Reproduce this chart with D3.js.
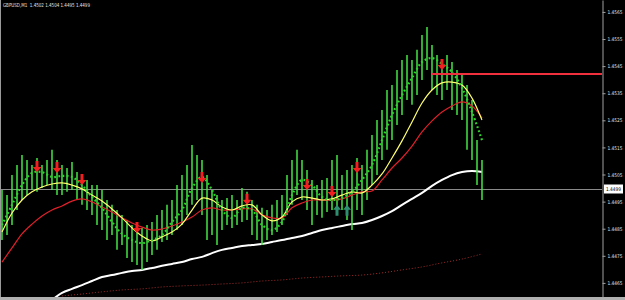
<!DOCTYPE html>
<html>
<head>
<meta charset="utf-8">
<script src="https://cdn.jsdelivr.net/npm/d3@7"></script>
<style>
body { margin: 0; background: #000; }
svg { display: block; }
</style>
</head>
<body>
<svg id="chart" width="625" height="300"></svg>
<script>
// header / axis
const symbolTitle = "GBPUSD,M1  1.4502 1.4504 1.4495 1.4499";
const priceTicks = [1.4565, 1.4555, 1.4545, 1.4535, 1.4525, 1.4515, 1.4505, 1.4495, 1.4485, 1.4475, 1.4465];
const lastPrice = 1.4499;
const levelPrice = 1.45421;   // red horizontal level
const levelStart = 86;        // bar where the level starts

// M1 bars (high / low), one per bar index 0..96
const barHigh = [1.44993, 1.44974, 1.45048, 1.45085, 1.45122, 1.45104, 1.45085, 1.45111, 1.45085, 1.45104,
  1.45141, 1.45104, 1.45085, 1.45074, 1.45096, 1.45059, 1.45048, 1.45030, 1.45011, 1.45011,
  1.44993, 1.44956, 1.44938, 1.44919, 1.44901, 1.44882, 1.44864, 1.44845, 1.44853, 1.44864,
  1.44875, 1.44901, 1.44919, 1.44938, 1.44956, 1.45011, 1.45048, 1.45085, 1.45159, 1.45122,
  1.45104, 1.45048, 1.44993, 1.44974, 1.44956, 1.44963, 1.44974, 1.44956, 1.45000, 1.44986,
  1.44956, 1.44938, 1.44927, 1.44919, 1.44938, 1.44956, 1.44974, 1.45048, 1.45104, 1.45141,
  1.45104, 1.45067, 1.45030, 1.45011, 1.45030, 1.45037, 1.45104, 1.45122, 1.45048, 1.45067,
  1.45085, 1.45111, 1.45085, 1.45141, 1.45196, 1.45251, 1.45288, 1.45362, 1.45380, 1.45436,
  1.45473, 1.45491, 1.45473, 1.45510, 1.45565, 1.45594, 1.45528, 1.45491, 1.45473, 1.45491,
  1.45465, 1.45436, 1.45417, 1.45380, 1.45325, 1.45177, 1.45104];
const barLow = [1.44808, 1.44827, 1.44864, 1.44919, 1.44956, 1.44974, 1.44993, 1.44986, 1.45000, 1.45011,
  1.44993, 1.44974, 1.44974, 1.44986, 1.44993, 1.44956, 1.44938, 1.44919, 1.44901, 1.44864,
  1.44845, 1.44808, 1.44827, 1.44772, 1.44790, 1.44742, 1.44727, 1.44716, 1.44698, 1.44727,
  1.44753, 1.44772, 1.44801, 1.44808, 1.44827, 1.44845, 1.44864, 1.44901, 1.44938, 1.44956,
  1.44901, 1.44808, 1.44827, 1.44790, 1.44845, 1.44864, 1.44853, 1.44864, 1.44875, 1.44882,
  1.44827, 1.44808, 1.44790, 1.44808, 1.44827, 1.44838, 1.44864, 1.44901, 1.44938, 1.44974,
  1.44956, 1.44919, 1.44864, 1.44901, 1.44890, 1.44912, 1.44919, 1.44901, 1.44919, 1.44882,
  1.44845, 1.44919, 1.44901, 1.44956, 1.45011, 1.45048, 1.45104, 1.45141, 1.45177, 1.45233,
  1.45270, 1.45325, 1.45307, 1.45343, 1.45399, 1.45436, 1.45362, 1.45343, 1.45325, 1.45362,
  1.45288, 1.45270, 1.45251, 1.45141, 1.45104, 1.45011, 1.44956];

// indicator lines, read every second bar (0, 2, ... 96)
const maIdx = d3.range(0, 97, 2);
const fastDots = [1.44864, 1.44938, 1.45011, 1.45056, 1.45059, 1.45041, 1.45045, 1.45041, 1.45011, 1.44967,
  1.44927, 1.44875, 1.44831, 1.44808, 1.44797, 1.44808, 1.44827, 1.44875, 1.44919, 1.45000,
  1.45041, 1.44993, 1.44919, 1.44890, 1.44927, 1.44919, 1.44864, 1.44845, 1.44875, 1.44974,
  1.45030, 1.45011, 1.44967, 1.44956, 1.44963, 1.44986, 1.45030, 1.45085, 1.45177, 1.45270,
  1.45343, 1.45406, 1.45465, 1.45480, 1.45458, 1.45428, 1.45369, 1.45281, 1.45177];
const yellowMA = [1.44838, 1.44908, 1.44956, 1.44986, 1.45004, 1.45015, 1.45019, 1.45011, 1.44997, 1.44974,
  1.44952, 1.44923, 1.44890, 1.44853, 1.44823, 1.44805, 1.44820, 1.44838, 1.44867, 1.44919,
  1.44963, 1.44956, 1.44930, 1.44919, 1.44934, 1.44938, 1.44901, 1.44879, 1.44893, 1.44949,
  1.44967, 1.44963, 1.44956, 1.44960, 1.44974, 1.44986, 1.44982, 1.45011, 1.45052, 1.45111,
  1.45174, 1.45244, 1.45314, 1.45362, 1.45388, 1.45391, 1.45380, 1.45332, 1.45251];
const redMA = [1.44727, 1.44779, 1.44831, 1.44867, 1.44897, 1.44919, 1.44934, 1.44952, 1.44960, 1.44949,
  1.44930, 1.44912, 1.44890, 1.44871, 1.44856, 1.44845, 1.44849, 1.44860, 1.44875, 1.44893,
  1.44919, 1.44927, 1.44919, 1.44919, 1.44923, 1.44923, 1.44901, 1.44890, 1.44890, 1.44927,
  1.44945, 1.44956, 1.44956, 1.44956, 1.44960, 1.44974, 1.44986, 1.44989, 1.45030, 1.45074,
  1.45111, 1.45155, 1.45207, 1.45248, 1.45281, 1.45303, 1.45318, 1.45303, 1.45259];

// white MA starts at bar 10
const whiteIdx = d3.range(10, 97, 2);
const whiteMA = [1.44587, 1.44613, 1.44628, 1.44642, 1.44657, 1.44672, 1.44679, 1.44687, 1.44694, 1.44698,
  1.44705, 1.44713, 1.44720, 1.44727, 1.44738, 1.44746, 1.44760, 1.44772, 1.44779, 1.44786,
  1.44790, 1.44794, 1.44801, 1.44808, 1.44816, 1.44823, 1.44834, 1.44845, 1.44853, 1.44860,
  1.44867, 1.44871, 1.44882, 1.44897, 1.44915, 1.44938, 1.44960, 1.44982, 1.45008, 1.45030,
  1.45048, 1.45059, 1.45063, 1.45059];

// slow dotted MA, every fourth bar from 12
const slowIdx = d3.range(12, 97, 4);
const slowMA = [1.44602, 1.44609, 1.44617, 1.44624, 1.44628, 1.44635, 1.44639, 1.44642, 1.44646, 1.44650,
  1.44657, 1.44661, 1.44668, 1.44672, 1.44676, 1.44679, 1.44687, 1.44698, 1.44709, 1.44724,
  1.44738, 1.44757];

// signal arrows
const sellIdx = [7, 11, 16, 27, 40, 49, 61, 66, 71, 88];
const sellPrice = [1.45059, 1.45056, 1.45011, 1.44834, 1.45019, 1.44938, 1.44993, 1.44967, 1.45056, 1.45436];
const buyIdx = [67, 69];
const buyPrice = [1.44938, 1.44938];

const W = 625, H = 300, plotRight = 602, plotBottom = 297;
const svg = d3.select("#chart");
svg.append("rect").attr("width", W).attr("height", H).attr("fill", "#000");

const x = d3.scaleLinear().domain([0, 120]).range([2, plotRight]);
const y = d3.scaleLinear().domain([1.44598, 1.45694]).range([plotBottom, 0]);

svg.append("clipPath").attr("id", "plot")
  .append("rect").attr("x", 0).attr("y", 0).attr("width", plotRight).attr("height", plotBottom);
const g = svg.append("g").attr("clip-path", "url(#plot)");

// current price line
g.append("line")
  .attr("x1", 0).attr("x2", plotRight)
  .attr("y1", Math.round(y(lastPrice)) - 1.5).attr("y2", Math.round(y(lastPrice)) - 1.5)
  .attr("stroke", "#8a8a8a").attr("stroke-width", 1);

// slow dark red dotted
g.append("path")
  .attr("d", d3.line().x((d, i) => x(slowIdx[i])).y(d => y(d)).curve(d3.curveCatmullRom)(slowMA))
  .attr("fill", "none").attr("stroke", "#a52a2a").attr("stroke-width", 1)
  .attr("stroke-dasharray", "1,2");

// white MA
g.append("path")
  .attr("d", d3.line().x((d, i) => x(whiteIdx[i])).y(d => y(d)).curve(d3.curveCatmullRom)(whiteMA))
  .attr("fill", "none").attr("stroke", "#ffffff").attr("stroke-width", 2);

// bars
g.selectAll(".bar").data(barHigh).enter().append("line")
  .attr("class", "bar")
  .attr("x1", (d, i) => x(i)).attr("x2", (d, i) => x(i))
  .attr("y1", d => y(d)).attr("y2", (d, i) => y(barLow[i]))
  .attr("stroke", "#44e644").attr("stroke-width", 1.5);

// red MA
g.append("path")
  .attr("d", d3.line().x((d, i) => x(maIdx[i])).y(d => y(d)).curve(d3.curveCatmullRom)(redMA))
  .attr("fill", "none").attr("stroke", "#e0202a").attr("stroke-width", 1.2);

// yellow MA
g.append("path")
  .attr("d", d3.line().x((d, i) => x(maIdx[i])).y(d => y(d)).curve(d3.curveCatmullRom)(yellowMA))
  .attr("fill", "none").attr("stroke", "#ffff70").attr("stroke-width", 1.2);

// green dotted fast line
g.append("path")
  .attr("d", d3.line().x((d, i) => x(maIdx[i])).y(d => y(d)).curve(d3.curveCatmullRom)(fastDots))
  .attr("fill", "none").attr("stroke", "#2fd42f").attr("stroke-width", 2.2)
  .attr("stroke-dasharray", "1.8,2.4");

// red level
g.append("line")
  .attr("x1", x(levelStart)).attr("x2", plotRight)
  .attr("y1", y(levelPrice)).attr("y2", y(levelPrice))
  .attr("stroke", "#f0303c").attr("stroke-width", 2);

// arrows
const downArrow = "M0,0L-4.5,-5L-1.5,-5L-1.5,-11L1.5,-11L1.5,-5L4.5,-5Z";
const upArrow = "M0,0L-4,5L-1.5,5L-1.5,11L1.5,11L1.5,5L4,5Z";
g.selectAll(".sell").data(sellIdx).enter().append("path")
  .attr("class", "sell")
  .attr("transform", (d, i) => `translate(${x(d)},${y(sellPrice[i])})`)
  .attr("d", downArrow).attr("fill", "#f02020");
g.selectAll(".buy").data(buyIdx).enter().append("path")
  .attr("class", "buy")
  .attr("transform", (d, i) => `translate(${x(d)},${y(buyPrice[i])})`)
  .attr("d", upArrow).attr("fill", "#2e8f70");

// frame
svg.append("line").attr("x1", 0.5).attr("x2", 0.5).attr("y1", 0).attr("y2", plotBottom)
  .attr("stroke", "#9a9a9a");
svg.append("rect").attr("x", 0).attr("y", plotBottom).attr("width", W).attr("height", 3)
  .attr("fill", "#b0b0b0");

// right price axis
const axis = svg.append("g")
  .attr("transform", `translate(${plotRight + 0.5},0)`)
  .call(d3.axisRight(y).tickValues(priceTicks).tickSize(3).tickSizeOuter(0).tickFormat(d3.format(".4f")));
axis.select(".domain").attr("stroke", "#a0a0a0");
axis.selectAll(".tick line").attr("stroke", "#a0a0a0");
axis.selectAll(".tick text")
  .attr("fill", "#e0e0e0").attr("font-family", "DejaVu Sans").attr("font-size", 5)
  .attr("x", 5).attr("textLength", 15).attr("lengthAdjust", "spacingAndGlyphs");

// last price box
svg.append("rect").attr("x", plotRight + 2).attr("y", Math.round(y(lastPrice)) - 6.5)
  .attr("width", 19).attr("height", 9).attr("fill", "#ffffff");
svg.append("text").attr("x", plotRight + 4).attr("y", Math.round(y(lastPrice)))
  .attr("font-family", "DejaVu Sans").attr("font-size", 5)
  .attr("textLength", 15).attr("lengthAdjust", "spacingAndGlyphs")
  .attr("fill", "#000").text(lastPrice.toFixed(4));

// title
svg.append("text").attr("x", 3).attr("y", 7)
  .attr("font-family", "DejaVu Sans").attr("font-size", 5.5)
  .attr("textLength", 87).attr("lengthAdjust", "spacingAndGlyphs")
  .attr("fill", "#e0e0e0").attr("xml:space", "preserve").text(symbolTitle);
</script>
</body>
</html>
